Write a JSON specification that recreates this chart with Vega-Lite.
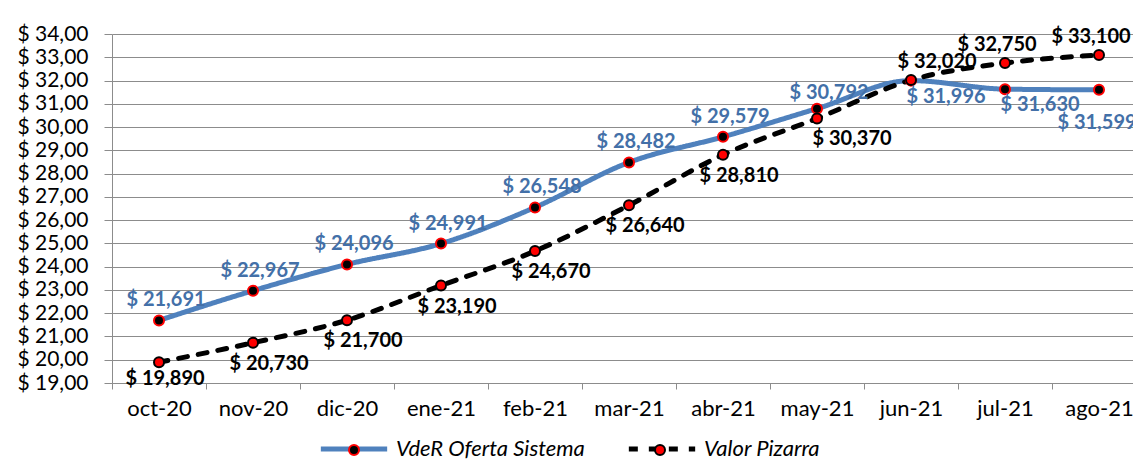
{
  "$schema": "https://vega.github.io/schema/vega-lite/v6.json",
  "width": 1021,
  "height": 349,
  "autosize": {"type": "none"},
  "padding": {"left": 112, "top": 34, "right": 0, "bottom": 82},
  "background": "#ffffff",
  "config": {
    "locale": {"number": {"decimal": ",", "thousands": ".", "grouping": [3], "currency": ["$ ", ""]}},
    "font": "Lato",
    "view": {"stroke": null}
  },
  "data": {
    "values": [
      {"mes": "oct-20", "serie": "VdeR Oferta Sistema", "valor": 21.691},
      {"mes": "nov-20", "serie": "VdeR Oferta Sistema", "valor": 22.967},
      {"mes": "dic-20", "serie": "VdeR Oferta Sistema", "valor": 24.096},
      {"mes": "ene-21", "serie": "VdeR Oferta Sistema", "valor": 24.991},
      {"mes": "feb-21", "serie": "VdeR Oferta Sistema", "valor": 26.548},
      {"mes": "mar-21", "serie": "VdeR Oferta Sistema", "valor": 28.482},
      {"mes": "abr-21", "serie": "VdeR Oferta Sistema", "valor": 29.579},
      {"mes": "may-21", "serie": "VdeR Oferta Sistema", "valor": 30.792},
      {"mes": "jun-21", "serie": "VdeR Oferta Sistema", "valor": 31.996},
      {"mes": "jul-21", "serie": "VdeR Oferta Sistema", "valor": 31.630},
      {"mes": "ago-21", "serie": "VdeR Oferta Sistema", "valor": 31.599},
      {"mes": "oct-20", "serie": "Valor Pizarra", "valor": 19.890},
      {"mes": "nov-20", "serie": "Valor Pizarra", "valor": 20.730},
      {"mes": "dic-20", "serie": "Valor Pizarra", "valor": 21.700},
      {"mes": "ene-21", "serie": "Valor Pizarra", "valor": 23.190},
      {"mes": "feb-21", "serie": "Valor Pizarra", "valor": 24.670},
      {"mes": "mar-21", "serie": "Valor Pizarra", "valor": 26.640},
      {"mes": "abr-21", "serie": "Valor Pizarra", "valor": 28.810},
      {"mes": "may-21", "serie": "Valor Pizarra", "valor": 30.370},
      {"mes": "jun-21", "serie": "Valor Pizarra", "valor": 32.020},
      {"mes": "jul-21", "serie": "Valor Pizarra", "valor": 32.750},
      {"mes": "ago-21", "serie": "Valor Pizarra", "valor": 33.100}
    ]
  },
  "encoding": {
    "x": {
      "field": "mes", "type": "ordinal",
      "sort": ["oct-20","nov-20","dic-20","ene-21","feb-21","mar-21","abr-21","may-21","jun-21","jul-21","ago-21"],
      "scale": {"type": "band", "range": [0, 1034], "paddingInner": 0, "paddingOuter": 0},
      "axis": {"title": null, "labelAngle": 0, "tickBand": "extent", "domainColor": "#8c8c8c", "tickColor": "#8c8c8c", "tickSize": 6, "labelFontSize": 22, "labelColor": "#000000", "labelPadding": 9, "grid": false}
    },
    "y": {
      "field": "valor", "type": "quantitative",
      "scale": {"domain": [19, 34], "nice": false, "zero": false},
      "axis": {"title": null, "values": [19,20,21,22,23,24,25,26,27,28,29,30,31,32,33,34], "format": "$.2f", "grid": true, "gridColor": "#8c8c8c", "gridWidth": 1, "domainColor": "#8c8c8c", "tickColor": "#8c8c8c", "tickSize": 8, "labelFontSize": 21, "labelColor": "#000000", "labelPadding": 16}
    }
  },
  "layer": [
    {
      "mark": {"type": "line", "interpolate": "monotone", "strokeWidth": 5, "strokeCap": "round"},
      "encoding": {
        "color": {"field": "serie", "type": "nominal",
          "scale": {"domain": ["VdeR Oferta Sistema", "Valor Pizarra"], "range": ["#4F81BD", "#000000"]},
          "legend": {"title": null, "orient": "none", "legendX": 206, "legendY": 379, "direction": "horizontal", "symbolType": "stroke", "symbolSize": 4400, "symbolStrokeWidth": 5, "labelFontSize": 22, "labelFontStyle": "italic", "labelColor": "#000000", "labelOffset": 6, "labelLimit": 0, "columnPadding": 33}},
        "strokeDash": {"field": "serie", "type": "nominal",
          "scale": {"domain": ["VdeR Oferta Sistema", "Valor Pizarra"], "range": [[1, 0], [9, 11]]},
          "legend": {"title": null, "orient": "none", "legendX": 206, "legendY": 379, "direction": "horizontal", "symbolType": "stroke", "symbolSize": 4400, "symbolStrokeWidth": 5, "labelFontSize": 22, "labelFontStyle": "italic", "labelColor": "#000000", "labelOffset": 6, "labelLimit": 0, "columnPadding": 33}}
      }
    },
    {
      "mark": {"type": "circle", "size": 100, "strokeWidth": 2, "opacity": 1},
      "encoding": {
        "fill": {"field": "serie", "type": "nominal",
          "scale": {"domain": ["VdeR Oferta Sistema", "Valor Pizarra", "-"], "range": ["#000000", "#FF0000", "#ffffff"]},
          "legend": {"title": null, "values": ["VdeR Oferta Sistema", "Valor Pizarra"], "orient": "none", "legendX": 236, "legendY": 410, "direction": "horizontal", "symbolType": "circle", "symbolSize": 100, "symbolStrokeWidth": 2, "symbolOpacity": 1, "labelExpr": "''", "labelOffset": 0, "columnPadding": 288}},
        "stroke": {"field": "serie", "type": "nominal",
          "scale": {"domain": ["VdeR Oferta Sistema", "Valor Pizarra", "-"], "range": ["#FF0000", "#000000", "#ffffff"]},
          "legend": {"title": null, "values": ["VdeR Oferta Sistema", "Valor Pizarra"], "orient": "none", "legendX": 236, "legendY": 410, "direction": "horizontal", "symbolType": "circle", "symbolSize": 100, "symbolStrokeWidth": 2, "symbolOpacity": 1, "labelExpr": "''", "labelOffset": 0, "columnPadding": 288}}
      }
    },
    {
      "transform": [{"filter": {"field": "serie", "equal": "VdeR Oferta Sistema"}}, {"filter": {"field": "mes", "oneOf": ["oct-20","nov-20","dic-20","ene-21","feb-21","mar-21","abr-21"]}}],
      "mark": {"type": "text", "fontWeight": "bold", "fontSize": 20, "color": "#4370A8", "dx": 7, "dy": -20, "baseline": "middle"},
      "encoding": {"text": {"field": "valor", "type": "quantitative", "format": "$.3f"}}
    },
    {
      "transform": [{"filter": {"field": "serie", "equal": "VdeR Oferta Sistema"}}, {"filter": {"field": "mes", "oneOf": ["may-21"]}}],
      "mark": {"type": "text", "fontWeight": "bold", "fontSize": 20, "color": "#4370A8", "dx": 12, "dy": -16, "baseline": "middle"},
      "encoding": {"text": {"field": "valor", "type": "quantitative", "format": "$.3f"}}
    },
    {
      "transform": [{"filter": {"field": "serie", "equal": "VdeR Oferta Sistema"}}, {"filter": {"field": "mes", "oneOf": ["jun-21", "jul-21"]}}],
      "mark": {"type": "text", "fontWeight": "bold", "fontSize": 20, "color": "#4370A8", "dx": 35, "dy": 16, "baseline": "middle"},
      "encoding": {"text": {"field": "valor", "type": "quantitative", "format": "$.3f"}}
    },
    {
      "transform": [{"filter": {"field": "serie", "equal": "VdeR Oferta Sistema"}}, {"filter": {"field": "mes", "oneOf": ["ago-21"]}}],
      "mark": {"type": "text", "fontWeight": "bold", "fontSize": 20, "color": "#4370A8", "dx": -2, "dy": 33, "baseline": "middle"},
      "encoding": {"text": {"field": "valor", "type": "quantitative", "format": "$.3f"}}
    },
    {
      "transform": [{"filter": {"field": "serie", "equal": "Valor Pizarra"}}, {"filter": {"field": "mes", "oneOf": ["oct-20"]}}],
      "mark": {"type": "text", "fontWeight": "bold", "fontSize": 20, "color": "#000000", "dx": 6, "dy": 17, "baseline": "middle"},
      "encoding": {"text": {"field": "valor", "type": "quantitative", "format": "$.3f"}}
    },
    {
      "transform": [{"filter": {"field": "serie", "equal": "Valor Pizarra"}}, {"filter": {"field": "mes", "oneOf": ["nov-20","dic-20","ene-21","feb-21","mar-21","abr-21"]}}],
      "mark": {"type": "text", "fontWeight": "bold", "fontSize": 20, "color": "#000000", "dx": 16, "dy": 21, "baseline": "middle"},
      "encoding": {"text": {"field": "valor", "type": "quantitative", "format": "$.3f"}}
    },
    {
      "transform": [{"filter": {"field": "serie", "equal": "Valor Pizarra"}}, {"filter": {"field": "mes", "oneOf": ["may-21"]}}],
      "mark": {"type": "text", "fontWeight": "bold", "fontSize": 20, "color": "#000000", "dx": 35, "dy": 21, "baseline": "middle"},
      "encoding": {"text": {"field": "valor", "type": "quantitative", "format": "$.3f"}}
    },
    {
      "transform": [{"filter": {"field": "serie", "equal": "Valor Pizarra"}}, {"filter": {"field": "mes", "oneOf": ["jun-21"]}}],
      "mark": {"type": "text", "fontWeight": "bold", "fontSize": 20, "color": "#000000", "dx": 26, "dy": -18, "baseline": "middle"},
      "encoding": {"text": {"field": "valor", "type": "quantitative", "format": "$.3f"}}
    },
    {
      "transform": [{"filter": {"field": "serie", "equal": "Valor Pizarra"}}, {"filter": {"field": "mes", "oneOf": ["jul-21", "ago-21"]}}],
      "mark": {"type": "text", "fontWeight": "bold", "fontSize": 20, "color": "#000000", "dx": -8, "dy": -18, "baseline": "middle"},
      "encoding": {"text": {"field": "valor", "type": "quantitative", "format": "$.3f"}}
    }
  ]
}
